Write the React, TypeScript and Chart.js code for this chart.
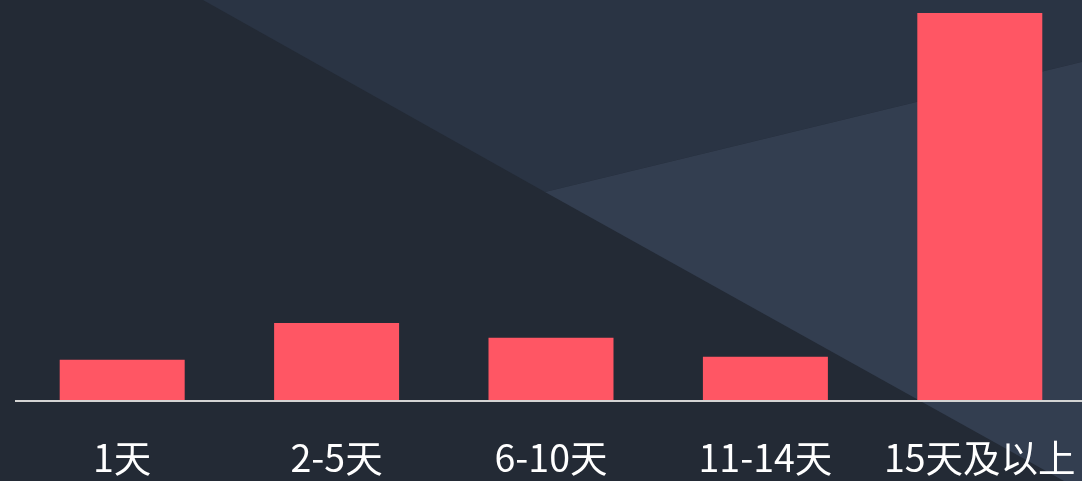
import React, { useEffect, useRef } from "react";
import { Chart, registerables } from "chart.js";

Chart.register(...registerables);

const categories = ["1天", "2-5天", "6-10天", "11-14天", "15天及以上"];
const values = [6.6, 12.6, 10.2, 7.1, 63.4];

const bgPlugin = {
  id: "bgShapes",
  beforeDraw(chart: any) {
    const { ctx, width, height } = chart;
    ctx.save();
    ctx.fillStyle = "#232a35";
    ctx.fillRect(0, 0, width, height);
    ctx.fillStyle = "#2a3444";
    ctx.beginPath();
    ctx.moveTo(203, 0);
    ctx.lineTo(width, 0);
    ctx.lineTo(width, 59.6);
    ctx.lineTo(545, 192);
    ctx.closePath();
    ctx.fill();
    ctx.fillStyle = "#333e50";
    ctx.beginPath();
    ctx.moveTo(545, 192);
    ctx.lineTo(width, 59.6);
    ctx.lineTo(width, height);
    ctx.lineTo(1064, height);
    ctx.closePath();
    ctx.fill();
    ctx.restore();
  },
  afterDraw(chart: any) {
    const { ctx, chartArea, width } = chart;
    ctx.save();
    ctx.fillStyle = "#d4d4d4";
    ctx.fillRect(chartArea.left, chartArea.bottom, width - chartArea.left, 2);
    ctx.restore();
  },
};

export default function App() {
  const ref = useRef<HTMLCanvasElement>(null);
  useEffect(() => {
    if (!ref.current) return;
    const chart = new Chart(ref.current, {
      type: "bar",
      data: {
        labels: categories,
        datasets: [
          {
            data: values,
            backgroundColor: "#ff5664",
            borderWidth: 0,
            barPercentage: 0.583,
            categoryPercentage: 1,
          },
        ],
      },
      options: {
        animation: false,
        responsive: false,
        maintainAspectRatio: false,
        layout: { padding: { left: 15, right: 5, top: 13, bottom: 0 } },
        plugins: { legend: { display: false }, tooltip: { enabled: false } },
        scales: {
          x: {
            grid: { display: false, drawTicks: false },
            border: { display: false },
            ticks: {
              color: "#ffffff",
              padding: 35,
              font: { family: "'Noto Sans CJK SC', 'Noto Sans', sans-serif", size: 37.5 },
              maxRotation: 0,
              autoSkip: false,
            },
            afterFit(scale: any) {
              scale.height = 81;
              scale.paddingLeft = 0;
              scale.paddingRight = 0;
            },
          },
          y: {
            display: false,
            min: 0,
            max: 63.4,
          },
        },
      },
      plugins: [bgPlugin],
    });
    return () => chart.destroy();
  }, []);
  return (
    <div
      style={{
        position: "fixed",
        left: 0,
        top: 0,
        width: 1082,
        height: 481,
        overflow: "hidden",
        background: "#232a35",
      }}
    >
      <canvas ref={ref} width={1092} height={481} style={{ display: "block", width: 1092, height: 481 }} />
    </div>
  );
}
